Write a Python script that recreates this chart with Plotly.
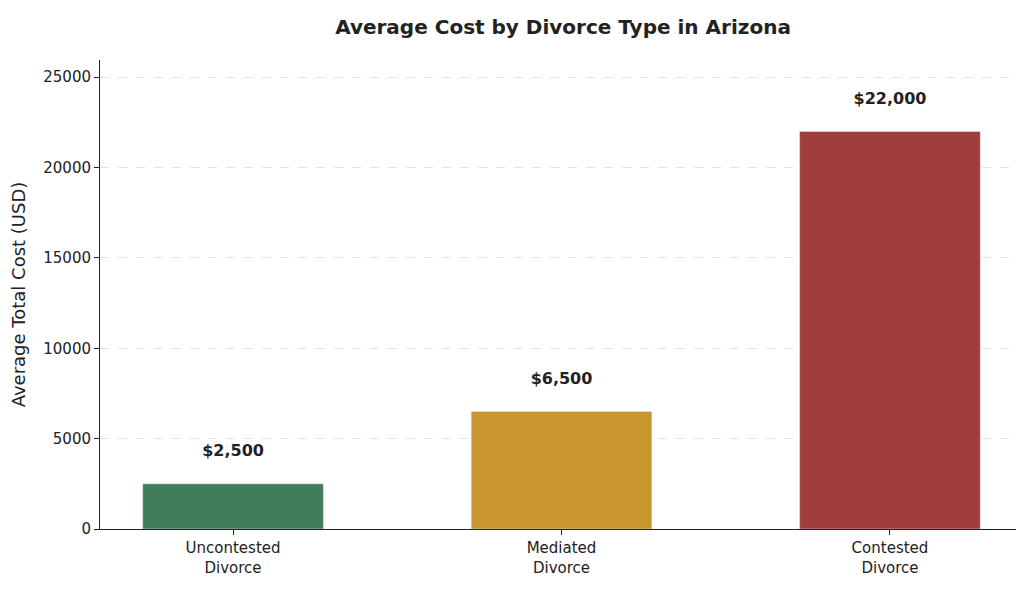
import plotly.graph_objects as go

categories = ["Uncontested<br>Divorce", "Mediated<br>Divorce", "Contested<br>Divorce"]
costs = [2500, 6500, 22000]
labels = ["$2,500", "$6,500", "$22,000"]
colors = ["#417d5b", "#c8952f", "#a03e3e"]

fig = go.Figure(go.Bar(
    x=categories, y=costs, marker_color=colors, width=0.55,
    text=labels, textposition="outside",
    textfont=dict(size=16, color="#222", family="DejaVu Sans"),
    texttemplate="<b>%{text}</b><br> ", cliponaxis=False,
))

fig.update_layout(
    title=dict(text="<b>Average Cost by Divorce Type in Arizona</b>", x=0.542, y=0.968,
               yanchor="middle", font=dict(size=20, color="#222")),
    font=dict(family="DejaVu Sans", size=15, color="#222"),
    width=1024, height=592,
    margin=dict(l=92, r=9, t=52, b=71),
    plot_bgcolor="white", paper_bgcolor="white",
    showlegend=False,
)
fig.update_xaxes(range=[-0.405, 2.405], showline=True, linecolor="#222",
                 ticks="outside", ticklen=5, tickcolor="#222")
fig.update_yaxes(range=[0, 25950], tickvals=[0, 5000, 10000, 15000, 20000, 25000],
                 tickformat="d",
                 showline=True, linecolor="#222", ticks="outside", ticklen=5,
                 tickcolor="#222", showgrid=True, gridcolor="#e3e3e3", griddash="dash",
                 zeroline=False, title=dict(text="Average Total Cost (USD)", standoff=14))

fig.write_html("out.html")
